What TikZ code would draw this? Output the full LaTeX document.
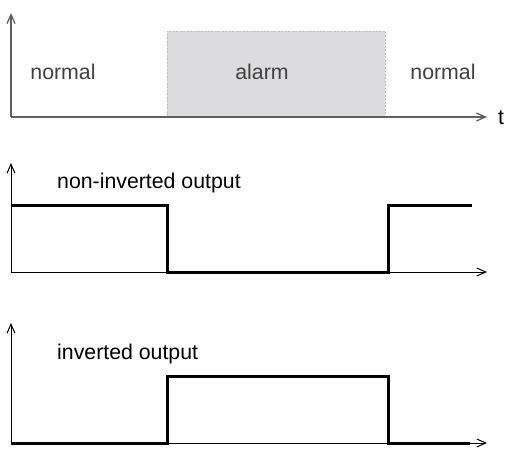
\documentclass[tikz,border=0pt]{standalone}
\usepackage{fontspec}
\setmainfont{Liberation Sans}
\usetikzlibrary{arrows.meta, positioning}
\definecolor{axisgrey}{RGB}{95,95,95}
\definecolor{alarmgrey}{RGB}{220,220,222}
\definecolor{edgegrey}{RGB}{190,190,190}
\tikzstyle{axis} = [line width=1pt, -{Straight Barb[length=9pt,width=8pt]}]
\tikzstyle{signal} = [line width=3pt, line join=miter]
\tikzstyle{label} = [inner sep=0pt, font=\fontsize{21.3}{25}\selectfont]
\tikzstyle{state} = [label, text=black!75, anchor=base]

\begin{document}
\begin{tikzpicture}[x=1pt, y=-1pt]
  \useasboundingbox (0,0) rectangle (505,448);

  % alarm input
  \node (alarm) [fill=alarmgrey, draw=edgegrey, dash pattern=on 2pt off 1.5pt, inner sep=0pt,
    minimum width=218pt, minimum height=86pt, anchor=south west] at (167,117) {};
  \coordinate (o1) at (11,117);
  \coordinate (y1) at (11,13);
  \coordinate (x1) at (487,117);
  \draw [axis, axisgrey, line width=1.3pt] (o1) -- (y1);
  \draw [axis, axisgrey, line width=1.3pt] (o1) -- (x1);
  \node (n1) [state] at (63,79) {normal};
  \node (al) [state] at (262,79) {alarm};
  \node (n2) [state] at (443,79) {normal};
  \node (t) [label, anchor=base west] at (498,124) {t};

  % non-inverted output
  \coordinate (o2) at (11,272);
  \coordinate (y2) at (11,163);
  \coordinate (x2) at (487,272);
  \coordinate (a1) at (11,205);
  \coordinate (a2) at (167,205);
  \coordinate (a3) at (167,272);
  \coordinate (a4) at (388,272);
  \coordinate (a5) at (388,205);
  \coordinate (a6) at (472,205);
  \draw [axis] (o2) -- (y2);
  \draw [axis] (o2) -- (x2);
  \node (ni) [label, anchor=base west] at (57,188) {non-inverted output};
  \draw [signal] (a1) -- (a2) -- (a3) -- (a4) -- (a5) -- (a6);

  % inverted output
  \coordinate (o3) at (11,443);
  \coordinate (y3) at (11,323);
  \coordinate (x3) at (487,443);
  \coordinate (b2) at (167,443);
  \coordinate (b3) at (167,376);
  \coordinate (b4) at (388,376);
  \coordinate (b5) at (388,443);
  \coordinate (b6) at (470,443);
  \draw [axis] (o3) -- (y3);
  \draw [axis] (o3) -- (x3);
  \node (inv) [label, anchor=base west] at (57,359) {inverted output};
  \draw [signal] (o3) -- (b2) -- (b3) -- (b4) -- (b5) -- (b6);

\end{tikzpicture}
\end{document}
